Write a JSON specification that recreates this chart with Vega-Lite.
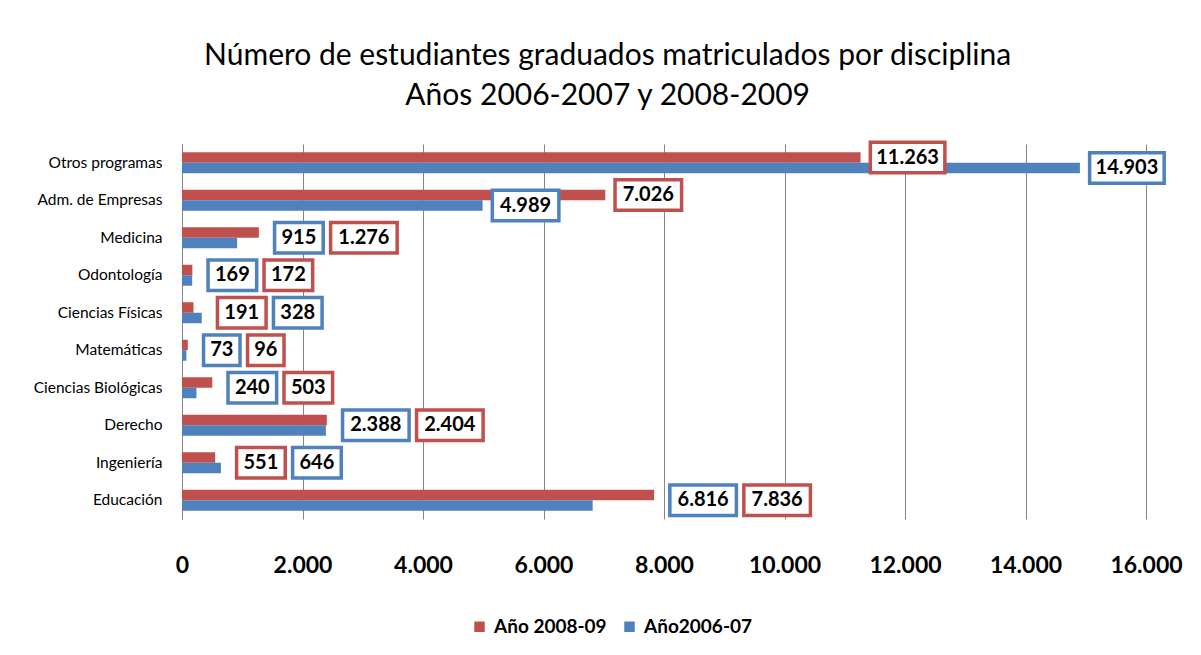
{
  "$schema": "https://vega.github.io/schema/vega-lite/v6.json",
  "width": 964,
  "height": 375,
  "autosize": {"type": "none"},
  "padding": {"left": 182, "top": 144, "right": 55, "bottom": 136},
  "background": "white",
  "config": {
    "locale": {"number": {"decimal": ",", "thousands": ".", "grouping": [3], "currency": ["", " €"]}},
    "font": "Lato",
    "view": {"stroke": null}
  },
  "title": {
    "text": ["Número de estudiantes graduados  matriculados por disciplina", "Años 2006-2007 y 2008-2009"],
    "font": "Lato",
    "fontSize": 30,
    "fontWeight": "normal",
    "color": "#000000",
    "lineHeight": 40,
    "anchor": "middle",
    "frame": "bounds",
    "offset": 24
  },
  "data": {
    "values": [
      {"disciplina": "Otros programas", "serie": "Año 2008-09", "valor": 11263},
      {"disciplina": "Otros programas", "serie": "Año2006-07", "valor": 14903},
      {"disciplina": "Adm. de Empresas", "serie": "Año 2008-09", "valor": 7026},
      {"disciplina": "Adm. de Empresas", "serie": "Año2006-07", "valor": 4989},
      {"disciplina": "Medicina", "serie": "Año 2008-09", "valor": 1276},
      {"disciplina": "Medicina", "serie": "Año2006-07", "valor": 915},
      {"disciplina": "Odontología", "serie": "Año 2008-09", "valor": 172},
      {"disciplina": "Odontología", "serie": "Año2006-07", "valor": 169},
      {"disciplina": "Ciencias Físicas", "serie": "Año 2008-09", "valor": 191},
      {"disciplina": "Ciencias Físicas", "serie": "Año2006-07", "valor": 328},
      {"disciplina": "Matemáticas", "serie": "Año 2008-09", "valor": 96},
      {"disciplina": "Matemáticas", "serie": "Año2006-07", "valor": 73},
      {"disciplina": "Ciencias Biológicas", "serie": "Año 2008-09", "valor": 503},
      {"disciplina": "Ciencias Biológicas", "serie": "Año2006-07", "valor": 240},
      {"disciplina": "Derecho", "serie": "Año 2008-09", "valor": 2404},
      {"disciplina": "Derecho", "serie": "Año2006-07", "valor": 2388},
      {"disciplina": "Ingeniería", "serie": "Año 2008-09", "valor": 551},
      {"disciplina": "Ingeniería", "serie": "Año2006-07", "valor": 646},
      {"disciplina": "Educación", "serie": "Año 2008-09", "valor": 7836},
      {"disciplina": "Educación", "serie": "Año2006-07", "valor": 6816}
    ]
  },
  "transform": [
    {"joinaggregate": [{"op": "min", "field": "valor", "as": "minv"}, {"op": "max", "field": "valor", "as": "maxv"}], "groupby": ["disciplina"]}
  ],
  "encoding": {
    "y": {
      "field": "disciplina",
      "type": "nominal",
      "sort": ["Otros programas", "Adm. de Empresas", "Medicina", "Odontología", "Ciencias Físicas", "Matemáticas", "Ciencias Biológicas", "Derecho", "Ingeniería", "Educación"],
      "scale": {"paddingInner": 0.44, "paddingOuter": 0.22},
      "axis": {
        "title": null,
        "ticks": false,
        "domain": true,
        "domainColor": "#868686",
        "domainWidth": 1,
        "labelFont": "Lato",
        "labelFontSize": 15.5,
        "labelColor": "#000000",
        "labelPadding": 20,
        "labelLimit": 300,
        "grid": false
      }
    }
  },
  "layer": [
    {
      "mark": {"type": "bar"},
      "encoding": {
        "x": {
          "field": "valor",
          "type": "quantitative",
          "scale": {"domain": [0, 16000], "nice": false},
          "axis": {
            "title": null,
            "values": [0, 2000, 4000, 6000, 8000, 10000, 12000, 14000, 16000],
            "format": ",d",
            "grid": true,
            "gridColor": "#868686",
            "gridWidth": 1,
            "ticks": false,
            "domain": false,
            "labelFlush": false,
            "labelOverlap": false,
            "labelBound": false,
            "labelFont": "Lato",
            "labelFontSize": 23,
            "labelFontWeight": "bold",
            "labelColor": "#000000",
            "labelPadding": 35
          }
        },
        "yOffset": {"field": "serie", "type": "nominal", "sort": ["Año 2008-09", "Año2006-07"]},
        "color": {
          "field": "serie",
          "type": "nominal",
          "scale": {"domain": ["Año 2008-09", "Año2006-07"], "range": ["#C0504D", "#4F81BD"]},
          "legend": {
            "title": null,
            "orient": "none",
            "direction": "horizontal",
            "legendX": 288,
            "legendY": 473,
            "symbolType": "square",
            "symbolSize": 110,
            "symbolStrokeWidth": 0,
            "labelFont": "Lato",
            "labelFontSize": 19,
            "labelFontWeight": "bold",
            "labelColor": "#000000",
            "columnPadding": 13,
            "labelOffset": 5
          }
        }
      }
    },
    {
      "transform": [{"filter": "datum.maxv - datum.minv > 1500"}],
      "mark": {
        "type": "point",
        "filled": false,
        "fill": "white",
        "fillOpacity": 1,
        "strokeWidth": 3.5,
        "opacity": 1,
        "size": 1024,
        "xOffset": {"expr": "8 + (datum.valor < 100 ? 40 : datum.valor < 1000 ? 52 : datum.valor < 10000 ? 70 : 78) / 2"}
      },
      "encoding": {
        "x": {"field": "valor", "type": "quantitative"},
        "yOffset": {"field": "serie", "type": "nominal", "sort": ["Año 2008-09", "Año2006-07"]},
        "stroke": {"field": "serie", "type": "nominal", "scale": {"domain": ["Año 2008-09", "Año2006-07"], "range": ["#C0504D", "#4F81BD"]}, "legend": null},
        "shape": {
          "condition": [
            {"test": "datum.valor < 100", "value": "M-1.14,-0.95H1.14V0.95H-1.14Z"},
            {"test": "datum.valor < 1000", "value": "M-1.52,-0.95H1.52V0.95H-1.52Z"},
            {"test": "datum.valor < 10000", "value": "M-2.08,-0.95H2.08V0.95H-2.08Z"}
          ],
          "value": "M-2.33,-0.95H2.33V0.95H-2.33Z"
        }
      }
    },
    {
      "transform": [{"filter": "datum.maxv - datum.minv > 1500"}],
      "mark": {
        "type": "text",
        "font": "Lato",
        "fontSize": 20,
        "fontWeight": "bold",
        "color": "#000000",
        "align": "center",
        "baseline": "middle",
        "dx": {"expr": "8 + (datum.valor < 100 ? 40 : datum.valor < 1000 ? 52 : datum.valor < 10000 ? 70 : 78) / 2"}
      },
      "encoding": {
        "x": {"field": "valor", "type": "quantitative"},
        "yOffset": {"field": "serie", "type": "nominal", "sort": ["Año 2008-09", "Año2006-07"]},
        "text": {"field": "valor", "type": "quantitative", "format": ",d"}
      }
    },
    {
      "transform": [{"filter": "datum.maxv - datum.minv <= 1500"}],
      "mark": {
        "type": "point",
        "filled": false,
        "fill": "white",
        "fillOpacity": 1,
        "strokeWidth": 3.5,
        "opacity": 1,
        "size": 1024,
        "xOffset": {"expr": "datum.valor == datum.minv ? 14 + (datum.valor < 100 ? 40 : datum.valor < 1000 ? 52 : datum.valor < 10000 ? 70 : 78) / 2 : 18 + (datum.minv < 100 ? 40 : datum.minv < 1000 ? 52 : datum.minv < 10000 ? 70 : 78) + (datum.valor < 100 ? 40 : datum.valor < 1000 ? 52 : datum.valor < 10000 ? 70 : 78) / 2"}
      },
      "encoding": {
        "x": {"field": "maxv", "type": "quantitative"},
        "stroke": {"field": "serie", "type": "nominal", "scale": {"domain": ["Año 2008-09", "Año2006-07"], "range": ["#C0504D", "#4F81BD"]}, "legend": null},
        "shape": {
          "condition": [
            {"test": "datum.valor < 100", "value": "M-1.14,-0.95H1.14V0.95H-1.14Z"},
            {"test": "datum.valor < 1000", "value": "M-1.52,-0.95H1.52V0.95H-1.52Z"},
            {"test": "datum.valor < 10000", "value": "M-2.08,-0.95H2.08V0.95H-2.08Z"}
          ],
          "value": "M-2.33,-0.95H2.33V0.95H-2.33Z"
        }
      }
    },
    {
      "transform": [{"filter": "datum.maxv - datum.minv <= 1500"}],
      "mark": {
        "type": "text",
        "font": "Lato",
        "fontSize": 20,
        "fontWeight": "bold",
        "color": "#000000",
        "align": "center",
        "baseline": "middle",
        "dx": {"expr": "datum.valor == datum.minv ? 14 + (datum.valor < 100 ? 40 : datum.valor < 1000 ? 52 : datum.valor < 10000 ? 70 : 78) / 2 : 18 + (datum.minv < 100 ? 40 : datum.minv < 1000 ? 52 : datum.minv < 10000 ? 70 : 78) + (datum.valor < 100 ? 40 : datum.valor < 1000 ? 52 : datum.valor < 10000 ? 70 : 78) / 2"}
      },
      "encoding": {
        "x": {"field": "maxv", "type": "quantitative"},
        "text": {"field": "valor", "type": "quantitative", "format": ",d"}
      }
    }
  ]
}
